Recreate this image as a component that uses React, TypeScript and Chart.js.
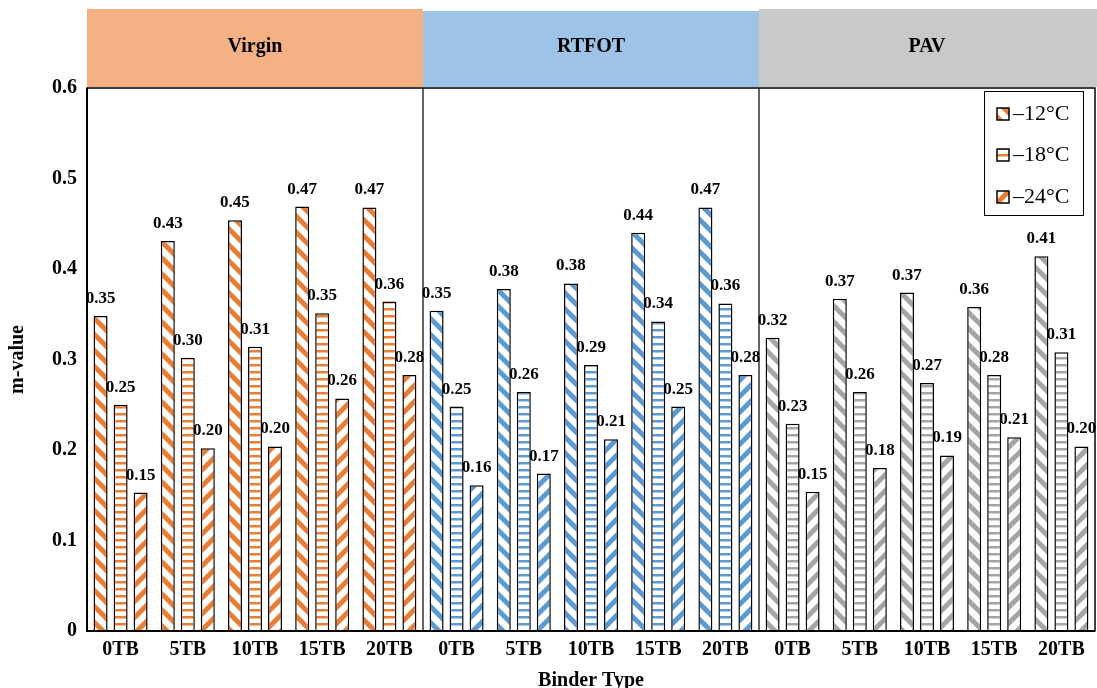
import React, { useEffect, useRef } from 'react';
import { Chart, registerables } from 'chart.js';

Chart.register(...registerables);

const FONT = '"Liberation Serif", "Times New Roman", serif';

const BINDER_TYPES = ['0TB', '5TB', '10TB', '15TB', '20TB'];
const GROUPS = ['Virgin', 'RTFOT', 'PAV'];
const CATEGORY_LABELS = GROUPS.flatMap(() => BINDER_TYPES);
const SERIES = ['–12°C', '–18°C', '–24°C'];

const M12 = [0.348, 0.431, 0.454, 0.469, 0.468, 0.354, 0.378, 0.384, 0.44, 0.468, 0.324, 0.367, 0.374, 0.358, 0.414];
const M18 = [0.25, 0.302, 0.314, 0.351, 0.364, 0.248, 0.264, 0.294, 0.342, 0.362, 0.229, 0.264, 0.274, 0.283, 0.308];
const M24 = [0.153, 0.202, 0.204, 0.257, 0.283, 0.161, 0.174, 0.212, 0.248, 0.283, 0.154, 0.18, 0.194, 0.214, 0.204];

const Y_TICKS = [0, 0.1, 0.2, 0.3, 0.4, 0.5, 0.6];
const Y_TICK_LABELS = ['0', '0.1', '0.2', '0.3', '0.4', '0.5', '0.6'];

const STRIPE_COLORS = ['#ED7D31', '#5B9BD5', '#A5A5A5'];
const HEADER_COLORS = ['#F4B183', '#9DC3E6', '#C9C9C9'];

function diagPattern(color: string, dir: 'back' | 'fwd') {
  const p = 16;
  const c = document.createElement('canvas');
  c.width = p;
  c.height = p;
  const g = c.getContext('2d')!;
  g.fillStyle = '#fff';
  g.fillRect(0, 0, p, p);
  g.strokeStyle = color;
  g.lineWidth = 5;
  g.beginPath();
  for (let k = -1; k <= 1; k++) {
    if (dir === 'back') {
      g.moveTo(k * p - 2, -2);
      g.lineTo(k * p + p + 2, p + 2);
    } else {
      g.moveTo(k * p - 2, p + 2);
      g.lineTo(k * p + p + 2, -2);
    }
  }
  g.stroke();
  return g.createPattern(c, 'repeat')!;
}

function horizPattern(color: string) {
  const p = 7;
  const c = document.createElement('canvas');
  c.width = 8;
  c.height = p;
  const g = c.getContext('2d')!;
  g.fillStyle = '#fff';
  g.fillRect(0, 0, 8, p);
  g.fillStyle = color;
  g.fillRect(0, 0, 8, 2.5);
  return g.createPattern(c, 'repeat')!;
}

export default function App() {
  const ref = useRef<HTMLCanvasElement>(null);

  useEffect(() => {
    const canvas = ref.current!;
    const patterns = STRIPE_COLORS.map((c) => [diagPattern(c, 'back'), horizPattern(c), diagPattern(c, 'fwd')]);
    const bg = (s: number) => CATEGORY_LABELS.map((_, i) => patterns[Math.floor(i / 5)][s]);

    const decorPlugin = {
      id: 'decor',
      afterDatasetsDraw(chart: any) {
        const ctx = chart.ctx;
        const { left, right, top, bottom } = chart.chartArea;
        const xs = chart.scales.x;
        // data labels
        ctx.save();
        ctx.fillStyle = '#000';
        ctx.font = `bold 17px ${FONT}`;
        ctx.textAlign = 'center';
        ctx.textBaseline = 'alphabetic';
        chart.data.datasets.forEach((ds: any, di: number) => {
          const meta = chart.getDatasetMeta(di);
          meta.data.forEach((bar: any, i: number) => {
            ctx.fillText(Number(ds.data[i]).toFixed(2), bar.x, bar.y - 13);
          });
        });
        ctx.restore();

        // header bands
        const b1 = (xs.getPixelForValue(4) + xs.getPixelForValue(5)) / 2;
        const b2 = (xs.getPixelForValue(9) + xs.getPixelForValue(10)) / 2;
        const bounds = [left, b1, b2, chart.width];
        ctx.save();
        GROUPS.forEach((gname, gi) => {
          const y0 = gi === 1 ? 11 : 9;
          ctx.fillStyle = HEADER_COLORS[gi];
          ctx.fillRect(bounds[gi], y0, bounds[gi + 1] - bounds[gi], top - y0 - 1);
          ctx.fillStyle = '#000';
          ctx.font = `bold 20px ${FONT}`;
          ctx.textAlign = 'center';
          ctx.textBaseline = 'middle';
          const cx = gi === 2 ? (bounds[2] + right) / 2 : (bounds[gi] + bounds[gi + 1]) / 2;
          ctx.fillText(gname, cx, 47);
        });

        // frame and separators
        ctx.strokeStyle = '#000';
        ctx.lineWidth = 1.5;
        ctx.strokeRect(left, top, right - left, bottom - top);
        ctx.lineWidth = 2;
        ctx.beginPath();
        ctx.moveTo(left, top);
        ctx.lineTo(left, bottom);
        ctx.lineTo(right, bottom);
        ctx.stroke();
        ctx.lineWidth = 1.2;
        ctx.beginPath();
        ctx.moveTo(b1, top);
        ctx.lineTo(b1, bottom);
        ctx.moveTo(b2, top);
        ctx.lineTo(b2, bottom);
        ctx.stroke();

        // legend
        const lx = 984;
        const ly = 91;
        const lw = 99;
        const lh = 124;
        ctx.fillStyle = '#fff';
        ctx.fillRect(lx, ly, lw, lh);
        ctx.lineWidth = 1;
        ctx.strokeRect(lx + 0.5, ly + 0.5, lw, lh);
        const rows = [114, 155, 197];
        SERIES.forEach((s, si) => {
          const cy = rows[si];
          ctx.fillStyle = patterns[0][si];
          ctx.fillRect(997, cy - 6, 12, 12);
          ctx.lineWidth = 1.5;
          ctx.strokeStyle = '#000';
          ctx.strokeRect(997, cy - 6, 12, 12);
          ctx.fillStyle = '#000';
          ctx.font = `22px ${FONT}`;
          ctx.textAlign = 'left';
          ctx.textBaseline = 'middle';
          ctx.fillText(s, 1013, cy);
        });
        ctx.restore();
      },
    };

    const chart = new Chart(canvas, {
      type: 'bar',
      data: {
        labels: CATEGORY_LABELS,
        datasets: [M12, M18, M24].map((d, s) => ({
          label: SERIES[s],
          data: d,
          backgroundColor: bg(s),
          borderColor: '#000',
          borderWidth: 1.5,
          categoryPercentage: 0.893,
          barPercentage: 0.7,
        })),
      },
      options: {
        responsive: false,
        animation: false,
        devicePixelRatio: 1,
        layout: { padding: { top: 88, right: 2, left: 0, bottom: 0 } },
        plugins: { legend: { display: false }, tooltip: { enabled: false } },
        scales: {
          x: {
            grid: { display: false, drawTicks: false },
            border: { display: false },
            ticks: {
              font: { family: FONT, size: 20, weight: 'bold' },
              color: '#000',
              padding: 7,
              maxRotation: 0,
              autoSkip: false,
            },
            title: {
              display: true,
              text: 'Binder Type',
              font: { family: FONT, size: 20, weight: 'bold' },
              color: '#000',
              padding: { top: 0, bottom: -5 },
            },
            afterFit: (s: any) => {
              s.height = 57;
            },
          },
          y: {
            min: 0,
            max: 0.6,
            grid: { display: false, drawTicks: false },
            border: { display: false },
            afterBuildTicks: (s: any) => {
              s.ticks = Y_TICKS.map((v) => ({ value: v }));
            },
            ticks: {
              font: { family: FONT, size: 20, weight: 'bold' },
              color: '#000',
              padding: 10,
              callback: (_v: any, i: number) => Y_TICK_LABELS[i],
            },
            title: {
              display: true,
              text: 'm-value',
              font: { family: FONT, size: 20, weight: 'bold' },
              color: '#000',
              padding: { top: 6, bottom: 4 },
            },
            afterFit: (s: any) => {
              s.width = 87;
            },
          },
        },
      },
      plugins: [decorPlugin],
    } as any);

    return () => chart.destroy();
  }, []);

  return (
    <canvas
      ref={ref}
      width={1097}
      height={688}
      style={{ position: 'absolute', left: 0, top: 0, width: 1097, height: 688 }}
    />
  );
}
